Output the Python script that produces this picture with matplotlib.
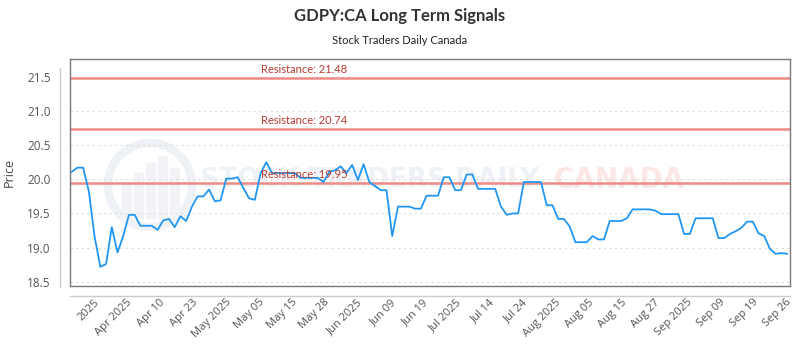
import numpy as np
import matplotlib
matplotlib.use('Agg')
import matplotlib.pyplot as plt
from matplotlib.lines import Line2D
from matplotlib.patches import Circle, Rectangle

# closing prices, one per trading session
prices = [20.11, 20.17, 20.17, 19.82, 19.16, 18.72, 18.76, 19.30, 18.93, 19.17,
          19.48, 19.48, 19.32, 19.32, 19.32, 19.26, 19.40, 19.42, 19.30, 19.46,
          19.39, 19.60, 19.75, 19.75, 19.85, 19.68, 19.69, 20.01, 20.01, 20.03,
          19.87, 19.72, 19.70, 20.09, 20.25, 20.09, 20.09, 20.09, 20.09, 20.09,
          20.02, 20.02, 20.02, 20.02, 19.96, 20.11, 20.13, 20.19, 20.09, 20.21,
          19.99, 20.22, 19.96, 19.90, 19.84, 19.84, 19.17, 19.60, 19.60, 19.60,
          19.57, 19.57, 19.76, 19.76, 19.76, 20.03, 20.03, 19.84, 19.84, 20.07,
          20.07, 19.86, 19.86, 19.86, 19.86, 19.60, 19.48, 19.50, 19.50, 19.96,
          19.96, 19.96, 19.96, 19.62, 19.62, 19.42, 19.42, 19.31, 19.08, 19.08,
          19.08, 19.17, 19.12, 19.12, 19.39, 19.39, 19.39, 19.43, 19.56, 19.56,
          19.56, 19.56, 19.54, 19.49, 19.49, 19.49, 19.49, 19.20, 19.20, 19.43,
          19.43, 19.43, 19.43, 19.14, 19.14, 19.20, 19.24, 19.29, 19.38, 19.38,
          19.21, 19.17, 18.98, 18.91, 18.92, 18.91]

resistance = [21.48, 20.74, 19.95]

tick_labels = ['2025', 'Apr 2025', 'Apr 10', 'Apr 23', 'May 2025', 'May 05',
               'May 15', 'May 28', 'Jun 2025', 'Jun 09', 'Jun 19', 'Jul 2025',
               'Jul 14', 'Jul 24', 'Aug 2025', 'Aug 05', 'Aug 15', 'Aug 27',
               'Sep 2025', 'Sep 09', 'Sep 19', 'Sep 26']

x = np.arange(len(prices))

fig = plt.figure(figsize=(8, 3.5), dpi=100)
ax = fig.add_axes([0.0875, 0.183, 0.9, 0.6486])

# watermark (very faint, kept under the data)
ax.add_patch(Circle((1.5, 1.65), 0.42, transform=fig.dpi_scale_trans,
                    fill=False, ec='#eef1f6', lw=6, zorder=0.5, clip_on=False))
for bx, bh in [(1.22, 0.35), (1.34, 0.45), (1.46, 0.55), (1.58, 0.62), (1.70, 0.5)]:
    ax.add_patch(Rectangle((bx, 1.32), 0.09, bh, transform=fig.dpi_scale_trans,
                           color='#f1f3f7', zorder=0.5, clip_on=False))
ax.text(0.25, 0.485, 'STOCK TRADERS DAILY', fontsize=19, fontweight='bold',
        color='#eef1f5', va='center', ha='left', family='DejaVu Sans',
        transform=fig.transFigure, zorder=0.5)
ax.text(0.692, 0.485, 'CANADA', fontsize=20, fontweight='bold',
        color='#fde6e6', va='center', ha='left', family='DejaVu Sans',
        transform=fig.transFigure, zorder=0.5)

for r in resistance:
    ax.axhline(r, color='#ef8a85', lw=1.8, zorder=2)
    ax.text(33.1, r + 0.04, 'Resistance: %.2f' % r, color='#b83a32',
            fontsize=8, family='Lato', va='bottom', ha='left', zorder=4)

ax.plot(x, prices, color='#2196f3', lw=1.3, zorder=3)

ax.set_xlim(-0.3, 125.5)
ax.set_ylim(18.44, 21.76)
ax.set_yticks([18.5, 19.0, 19.5, 20.0, 20.5, 21.0, 21.5])
ax.set_yticklabels(['18.5', '19.0', '19.5', '20.0', '20.5', '21.0', '21.5'])
ax.set_xticks(np.linspace(3.8, 124.8, len(tick_labels)))
ax.set_xticklabels(tick_labels, rotation=45, ha='right', rotation_mode='anchor')
ax.tick_params(axis='y', length=0, pad=14, labelsize=8.5, labelcolor='#555555')
ax.tick_params(axis='x', length=0, pad=8, labelsize=8, labelcolor='#555555')
for lab in ax.get_xticklabels() + ax.get_yticklabels():
    lab.set_family('Open Sans')
ax.grid(axis='y', ls=(0, (2, 3)), color='#dddddd', lw=0.8, zorder=1)
ax.set_axisbelow(True)
for s in ax.spines.values():
    s.set_color('#777777')
    s.set_linewidth(1)

ax.set_ylabel('Price', fontsize=9, color='#444444', family='Open Sans')
ax.yaxis.set_label_coords(-0.076, 0.5)

# offset axis lines
fig.add_artist(Line2D([0.075, 0.075], [0.18, 0.806], color='#cccccc', lw=1))
fig.add_artist(Line2D([0.0875, 0.9875], [0.154, 0.154], color='#cccccc', lw=1))

fig.text(0.5, 0.953, 'GDPY:CA Long Term Signals', ha='center', va='center',
         fontsize=12, fontweight='bold', color='#333333', family='Lato')
fig.text(0.5, 0.885, 'Stock Traders Daily Canada', ha='center', va='center',
         fontsize=8, color='#222222', family='Lato')

fig.savefig('out.png', dpi=100)
